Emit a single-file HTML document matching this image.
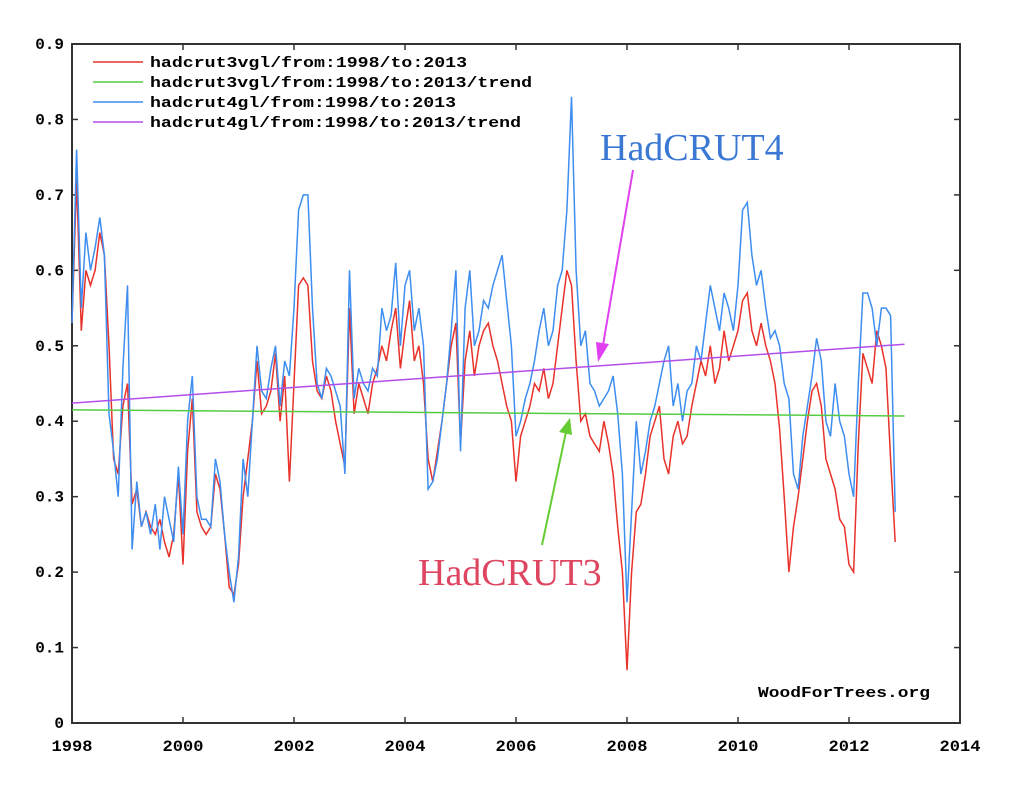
<!DOCTYPE html>
<html><head><meta charset="utf-8"><style>
body{margin:0;background:#fff;width:1024px;height:797px;overflow:hidden}
svg text{font-family:"Liberation Mono",monospace;font-weight:bold}
</style></head><body>
<svg id="chart" width="1024" height="797" xmlns="http://www.w3.org/2000/svg">
<g id="axes"></g>
<g id="series"></g>
<g id="legend">
 <line x1="93" y1="62" x2="143" y2="62" stroke="#e8322a" stroke-width="1.5"/>
 <text x="150" y="67" font-size="15" textLength="317" lengthAdjust="spacingAndGlyphs">hadcrut3vgl/from:1998/to:2013</text>
 <line x1="93" y1="82" x2="143" y2="82" stroke="#55cc44" stroke-width="1.5"/>
 <text x="150" y="87" font-size="15" textLength="382" lengthAdjust="spacingAndGlyphs">hadcrut3vgl/from:1998/to:2013/trend</text>
 <line x1="93" y1="102" x2="143" y2="102" stroke="#3d8ef0" stroke-width="1.5"/>
 <text x="150" y="107" font-size="15" textLength="306" lengthAdjust="spacingAndGlyphs">hadcrut4gl/from:1998/to:2013</text>
 <line x1="93" y1="122" x2="143" y2="122" stroke="#b34ee8" stroke-width="1.5"/>
 <text x="150" y="127" font-size="15" textLength="371" lengthAdjust="spacingAndGlyphs">hadcrut4gl/from:1998/to:2013/trend</text>
</g>
<text x="758" y="697" font-size="15" textLength="172" lengthAdjust="spacingAndGlyphs">WoodForTrees.org</text>
<text x="600" y="160" font-size="38" fill="#3a78d4" style="font-family:'Liberation Serif',serif;font-weight:normal">HadCRUT4</text>
<text x="418" y="585" font-size="38" fill="#de4560" style="font-family:'Liberation Serif',serif;font-weight:normal">HadCRUT3</text>
<g><line x1="633" y1="170" x2="603" y2="345" stroke="#e040f0" stroke-width="2"/><polygon points="598,362 596,342 609,344" fill="#e040f0"/></g>
<g><line x1="542" y1="545" x2="566" y2="432" stroke="#66cc33" stroke-width="2"/><polygon points="570,418 572,435 559,432" fill="#66cc33"/></g>
</svg>
<script>
const xTicks=[1998,2000,2002,2004,2006,2008,2010,2012,2014];
const yTicks=[0,0.1,0.2,0.3,0.4,0.5,0.6,0.7,0.8,0.9];
const yLabels=["0","0.1","0.2","0.3","0.4","0.5","0.6","0.7","0.8","0.9"];
const startYear=1998;
const hadcrut4=[.53,.76,.55,.65,.60,.63,.67,.62,.41,.36,.30,.47,
.58,.23,.32,.26,.28,.25,.29,.23,.30,.27,.24,.34,
.25,.40,.46,.30,.27,.27,.26,.35,.32,.25,.20,.16,
.22,.35,.30,.40,.50,.44,.43,.47,.50,.42,.48,.46,
.55,.68,.70,.70,.55,.45,.43,.47,.46,.44,.42,.33,
.60,.43,.47,.45,.44,.47,.46,.55,.52,.54,.61,.50,
.58,.60,.52,.55,.50,.31,.32,.35,.40,.45,.52,.60,
.36,.55,.60,.50,.52,.56,.55,.58,.60,.62,.56,.50,
.38,.40,.43,.45,.48,.52,.55,.50,.52,.58,.60,.68,
.83,.60,.50,.52,.45,.44,.42,.43,.44,.46,.41,.33,
.16,.28,.40,.33,.36,.40,.42,.45,.48,.50,.42,.45,
.40,.44,.45,.50,.48,.53,.58,.55,.52,.57,.55,.52,
.58,.68,.69,.62,.58,.60,.55,.51,.52,.50,.45,.43,
.33,.31,.38,.42,.46,.51,.48,.40,.38,.45,.40,.38,
.33,.30,.45,.57,.57,.55,.50,.55,.55,.54,.28];
const hadcrut3=[.53,.72,.52,.60,.58,.60,.65,.62,.50,.35,.33,.42,
.45,.29,.31,.26,.28,.26,.25,.27,.24,.22,.25,.33,
.21,.36,.43,.28,.26,.25,.26,.33,.31,.25,.18,.17,
.21,.30,.35,.40,.48,.41,.42,.44,.49,.40,.46,.32,
.45,.58,.59,.58,.48,.44,.43,.46,.44,.40,.37,.34,
.55,.41,.45,.43,.41,.45,.47,.50,.48,.52,.55,.47,
.52,.56,.48,.50,.45,.35,.32,.36,.40,.45,.50,.53,
.37,.48,.52,.46,.50,.52,.53,.50,.48,.45,.42,.40,
.32,.38,.40,.42,.45,.44,.47,.43,.45,.50,.55,.60,
.58,.48,.40,.41,.38,.37,.36,.40,.37,.33,.26,.20,
.07,.20,.28,.29,.33,.38,.40,.42,.35,.33,.38,.40,
.37,.38,.42,.45,.48,.46,.50,.45,.47,.52,.48,.50,
.52,.56,.57,.52,.50,.53,.50,.48,.45,.39,.30,.20,
.26,.30,.35,.40,.44,.45,.42,.35,.33,.31,.27,.26,
.21,.20,.37,.49,.47,.45,.52,.50,.47,.35,.24];
const trend3=[0.415,0.407];
const trend4=[0.424,0.502];
const trendYears=[1998,2013];

const X=y=>72+(y-1998)*(888/16);
const Y=v=>723-v*(679/0.9);
const NS="http://www.w3.org/2000/svg";
function mk(tag,attrs,parent){const e=document.createElementNS(NS,tag);for(const k in attrs)e.setAttribute(k,attrs[k]);parent.appendChild(e);return e;}
const axes=document.getElementById('axes');
const frame=mk('rect',{x:72,y:44,width:888,height:679,fill:'none',stroke:'#333','stroke-width':2},axes);


xTicks.forEach(t=>{
 const x=X(t);
 const l=mk('line',{x1:x,y1:723,x2:x,y2:717,stroke:'#333','stroke-width':1.5},axes);
 
 
 const l2=mk('line',{x1:x,y1:44,x2:x,y2:50,stroke:'#333','stroke-width':1.5},axes);
 
 
 const tx=mk('text',{x:x,y:751,'font-size':16,'text-anchor':'middle',textLength:41,lengthAdjust:'spacingAndGlyphs'},axes);
 tx.textContent=t;
 
 
});
yTicks.forEach((t,i)=>{
 const y=Y(t);
 const l=mk('line',{x1:72,y1:y,x2:78,y2:y,stroke:'#333','stroke-width':1.5},axes);
 
 
 const l2=mk('line',{x1:954,y1:y,x2:960,y2:y,stroke:'#333','stroke-width':1.5},axes);
 
 
 const tx=mk('text',{x:64,y:y+5,'font-size':16,'text-anchor':'end'},axes);
 tx.textContent=yLabels[i];
 
 
});
const ser=document.getElementById('series');
function line(vals,color,name){
 const pts=vals.map((v,i)=>X(startYear+i/12).toFixed(1)+','+Y(v).toFixed(1)).join(' ');
 const p=mk('polyline',{points:pts,fill:'none',stroke:color,'stroke-width':1.5},ser);
 
 
}
function trend(vals,color,name){
 const p=mk('line',{x1:X(trendYears[0]),y1:Y(vals[0]),x2:X(trendYears[1]),y2:Y(vals[1]),stroke:color,'stroke-width':1.5},ser);
 
 
}
line(hadcrut3,'#e8322a','hadcrut3-line');
line(hadcrut4,'#3d8ef0','hadcrut4-line');
trend(trend3,'#55cc44','hadcrut3-trend-line');
trend(trend4,'#b34ee8','hadcrut4-trend-line');
</script>
</body></html>
